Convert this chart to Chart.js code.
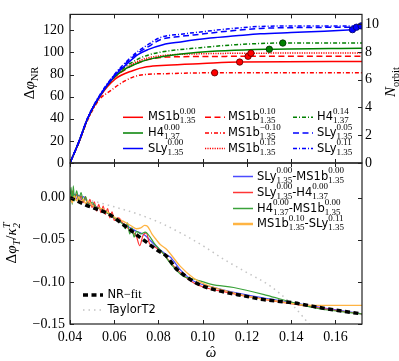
<!DOCTYPE html>
<html>
<head>
<meta charset="utf-8">
<script src="https://cdn.jsdelivr.net/npm/chart.js@4.4.1/dist/chart.umd.min.js"></script>
<style>
  html, body { margin: 0; padding: 0; background: #fff; }
  #wrap { position: relative; width: 399px; height: 361px; }
  #wrap canvas { position: absolute; left: 0; top: 0; }
</style>
</head>
<body>
<div id="wrap">
  <canvas id="topPanel" width="399" height="361"></canvas>
  <canvas id="bottomPanel" width="399" height="361"></canvas>
</div>
<script>
// --- AXES / TICKS ---
const xTicks = [0.04, 0.06, 0.08, 0.10, 0.12, 0.14, 0.16];
const xTickLabels = ['0.04', '0.06', '0.08', '0.10', '0.12', '0.14', '0.16'];
const phiTicks = [0, 20, 40, 60, 80, 100, 120];
const orbitTicks = [0, 2, 4, 6, 8, 10];
const tidalTicks = [0, -0.05, -0.10, -0.15];
const tidalTickLabels = ['0.00', '\u22120.05', '\u22120.10', '\u22120.15'];

// --- TOP PANEL: accumulated NR phase, one omega list per run ---
const wMS1b000 = [0.04, 0.0442, 0.048, 0.0533, 0.0605, 0.0683, 0.0747, 0.0835, 0.10, 0.1167, 0.172];
const phiMS1b000 = [0, 19.8, 40, 59.5, 76, 83.5, 87, 88.5, 90, 91.3, 91.8];
const wMS1b010 = [0.04, 0.0442, 0.048, 0.0533, 0.0605, 0.0654, 0.0707, 0.0752, 0.0835, 0.10, 0.1205, 0.172];
const phiMS1b010 = [0, 19.8, 40.2, 59.7, 78, 85, 90.5, 93.5, 95.8, 96.3, 96.5, 96.5];
const wMS1bm010 = [0.04, 0.0442, 0.048, 0.0533, 0.0577, 0.0646, 0.0714, 0.0835, 0.1054, 0.172];
const phiMS1bm010 = [0, 19.5, 39, 57.5, 64.5, 74, 79.4, 80.8, 81.6, 81.6];
const wMS1b015 = [0.04, 0.0442, 0.048, 0.0533, 0.0605, 0.0654, 0.0707, 0.0752, 0.0835, 0.10, 0.1218, 0.172];
const phiMS1b015 = [0, 19.8, 40.2, 59.8, 78.5, 86, 92, 95, 97.5, 98.8, 99.3, 99.5];
const wH4000 = [0.04, 0.0442, 0.048, 0.0533, 0.0605, 0.0654, 0.0707, 0.0752, 0.084, 0.097, 0.1301, 0.172];
const phiH4000 = [0, 20, 40.3, 60, 78.5, 85.5, 90.5, 93.5, 97, 100, 102.9, 103.8];
const wH4014 = [0.04, 0.0442, 0.048, 0.0533, 0.0605, 0.0654, 0.0707, 0.0752, 0.081, 0.0989, 0.115, 0.1362, 0.172];
const phiH4014 = [0, 20, 40.5, 60, 79.5, 87.5, 94, 97.5, 100.3, 104.3, 107, 108.5, 108.5];
const wSLy000 = [0.04, 0.0442, 0.048, 0.0533, 0.0605, 0.0654, 0.0707, 0.0752, 0.082, 0.09, 0.1034, 0.115, 0.126, 0.14, 0.155, 0.1677];
const phiSLy000 = [0, 20, 40.5, 60, 79.5, 89, 98, 102.5, 107, 109.5, 113, 115, 116.8, 118, 119.2, 120.6];
const wSLy005 = [0.04, 0.0442, 0.048, 0.0533, 0.0605, 0.0654, 0.0707, 0.0752, 0.0808, 0.09, 0.0989, 0.11, 0.126, 0.145, 0.1695];
const phiSLy005 = [0, 20, 40.5, 60.5, 80.5, 90.5, 99.5, 105, 111.5, 114.5, 116.5, 119, 121.7, 122.5, 122.8];
const wSLy011 = [0.04, 0.0442, 0.048, 0.0533, 0.0605, 0.0654, 0.0707, 0.0752, 0.0808, 0.09, 0.0989, 0.11, 0.126, 0.145, 0.1716];
const phiSLy011 = [0, 20.5, 41, 61, 81, 91.5, 101, 107, 113.5, 116.5, 118.5, 121, 123.5, 124, 124];

// merger markers (same order: MS1b 0.00, 0.10, -0.10, 0.15, H4 0.00, 0.14, SLy 0.00, 0.05, 0.11)
const mergerW = [0.1167, 0.1205, 0.1054, 0.1218, 0.1301, 0.1362, 0.1677, 0.1695, 0.1716];
const mergerPhi = [91.3, 96.5, 81.6, 99.3, 102.9, 108.5, 120.6, 122.8, 124];

// --- BOTTOM PANEL: tidal phase difference / kappa ---
const wNRfit = [0.04, 0.047, 0.058, 0.065, 0.073, 0.079, 0.0838, 0.0876, 0.0921, 0.0966, 0.1019, 0.1072, 0.1125, 0.1185, 0.126, 0.1411, 0.1562, 0.172];
const nrFit = [0, -0.0086, -0.0204, -0.034, -0.0498, -0.0616, -0.070, -0.0832, -0.093, -0.1008, -0.1067, -0.1106, -0.1137, -0.1165, -0.1205, -0.125, -0.132, -0.138];
const wTaylorT2 = [0.04, 0.05, 0.06, 0.07, 0.08, 0.09, 0.10, 0.11, 0.12, 0.13, 0.14, 0.15];
const taylorT2 = [0, -0.004, -0.011, -0.019, -0.029, -0.042, -0.057, -0.074, -0.089, -0.104, -0.126, -0.156];

const wSLyMS1b = [0.040, 0.041, 0.042, 0.043, 0.044, 0.045, 0.046, 0.048, 0.050, 0.052, 0.054, 0.056, 0.058, 0.060, 0.062, 0.064, 0.066, 0.068, 0.070, 0.072, 0.074, 0.076, 0.079, 0.0835, 0.0853, 0.09, 0.0958, 0.104, 0.111, 0.126, 0.14, 0.155, 0.172];
const dSLyMS1b = [0.002, -0.005, 0.004, -0.002, 0.003, -0.003, 0.001, -0.006, -0.008, -0.011, -0.014, -0.017, -0.020, -0.024, -0.027, -0.031, -0.034, -0.037, -0.040, -0.042, -0.045, -0.050, -0.058, -0.0675, -0.0705, -0.086, -0.099, -0.106, -0.1107, -0.1185, -0.1245, -0.131, -0.138];
const wSLyH4 = [0.040, 0.0405, 0.041, 0.042, 0.043, 0.044, 0.045, 0.046, 0.047, 0.048, 0.049, 0.050, 0.051, 0.052, 0.053, 0.054, 0.055, 0.056, 0.057, 0.058, 0.059, 0.060, 0.062, 0.064, 0.066, 0.068, 0.070, 0.0715, 0.073, 0.0745, 0.076, 0.078, 0.082, 0.086, 0.0958, 0.111, 0.126, 0.14, 0.155, 0.172];
const dSLyH4 = [0.006, -0.004, 0.008, -0.003, 0.004, -0.004, 0.002, -0.006, 0.001, -0.010, -0.002, -0.012, -0.005, -0.016, -0.008, -0.018, -0.010, -0.020, -0.013, -0.024, -0.017, -0.027, -0.024, -0.031, -0.036, -0.040, -0.046, -0.057, -0.045, -0.042, -0.055, -0.058, -0.066, -0.079, -0.101, -0.1125, -0.120, -0.126, -0.132, -0.138];
const wH4MS1b = [0.040, 0.0405, 0.041, 0.0415, 0.042, 0.043, 0.044, 0.045, 0.046, 0.047, 0.048, 0.050, 0.052, 0.054, 0.056, 0.058, 0.060, 0.062, 0.064, 0.065, 0.066, 0.067, 0.068, 0.069, 0.070, 0.072, 0.074, 0.076, 0.078, 0.082, 0.086, 0.091, 0.096, 0.104, 0.114, 0.129, 0.14, 0.152, 0.172];
const dH4MS1b = [-0.005, 0.012, -0.008, 0.014, -0.004, 0.008, -0.003, 0.006, -0.004, 0.001, -0.008, -0.006, -0.012, -0.013, -0.017, -0.020, -0.024, -0.028, -0.032, -0.037, -0.030, -0.043, -0.036, -0.047, -0.040, -0.043, -0.041, -0.046, -0.054, -0.066, -0.080, -0.093, -0.0966, -0.103, -0.1067, -0.116, -0.124, -0.1316, -0.138];
const wMS1bSLy = [0.040, 0.041, 0.042, 0.043, 0.044, 0.045, 0.046, 0.047, 0.048, 0.050, 0.052, 0.054, 0.056, 0.058, 0.060, 0.062, 0.064, 0.066, 0.068, 0.070, 0.072, 0.0737, 0.075, 0.077, 0.079, 0.0808, 0.0835, 0.0898, 0.0958, 0.101, 0.11, 0.12, 0.13, 0.14, 0.148, 0.172];
const dMS1bSLy = [0.004, -0.006, 0.002, -0.004, 0.001, -0.005, -0.002, -0.007, -0.004, -0.009, -0.012, -0.013, -0.016, -0.019, -0.023, -0.026, -0.028, -0.031, -0.034, -0.037, -0.036, -0.033, -0.034, -0.043, -0.050, -0.0557, -0.061, -0.0813, -0.0955, -0.103, -0.1105, -0.117, -0.1215, -0.1255, -0.128, -0.128];

// --- STYLE ---
const RED = '#ff0000', GREEN = '#008000', BLUE = '#0000ff';
const bBLUE = '#4b4bff', bRED = '#ff3535', bGREEN = '#3aa23a', bORANGE = '#ffb443';
const DASH = [6, 3.5], DASHDOT = [4, 2, 1, 2], DOT = [1.2, 1.2];
const SERIF = '"Liberation Serif", "DejaVu Serif", serif';
const SANS = '"DejaVu Sans", sans-serif';
const legendStyle = { main: '11.5px ' + SANS, small: '9px ' + SERIF, up: 6.5, down: 3 };
const titleStyle = { main: '15px ' + SERIF, small: '10.5px ' + SERIF, up: 6, down: 4 };

function series(ws, vs, color, dash, width) {
    return {
        data: ws.map((w, i) => ({ x: w, y: vs[i] })),
        borderColor: color,
        borderDash: dash,
        borderWidth: width,
        pointRadius: 0,
        fill: false,
        cubicInterpolationMode: 'monotone'
    };
}

// draws text with stacked sup/sub parts, returns width
function drawRich(ctx, parts, x, y, st, dry) {
    let cx = x;
    parts.forEach(p => {
        if (p.t !== undefined) {
            ctx.font = p.f || st.main;
            if (!dry) ctx.fillText(p.t, cx, y);
            cx += ctx.measureText(p.t).width;
        } else {
            ctx.font = p.f || st.small;
            let w = 0;
            if (p.sup) { if (!dry) ctx.fillText(p.sup, cx, y - st.up); w = Math.max(w, ctx.measureText(p.sup).width); }
            if (p.sub) { if (!dry) ctx.fillText(p.sub, cx, y + st.down); w = Math.max(w, ctx.measureText(p.sub).width); }
            cx += w;
        }
    });
    return cx - x;
}

const eos = (name, chi, mass) => [{ t: name }, { sup: chi, sub: mass }];

function drawEntry(ctx, x0, x1, y, color, dash, width, tx, parts) {
    ctx.save();
    ctx.strokeStyle = color;
    ctx.lineWidth = width;
    ctx.setLineDash(dash);
    ctx.beginPath();
    ctx.moveTo(x0, y);
    ctx.lineTo(x1, y);
    ctx.stroke();
    ctx.restore();
    ctx.fillStyle = '#000';
    ctx.textAlign = 'left';
    ctx.textBaseline = 'alphabetic';
    drawRich(ctx, parts, tx, y + 3, legendStyle);
}

function drawTitle(ctx, parts, x, y, rotate) {
    ctx.save();
    ctx.translate(x, y);
    if (rotate) ctx.rotate(-Math.PI / 2);
    ctx.fillStyle = '#000';
    ctx.textAlign = 'left';
    ctx.textBaseline = 'alphabetic';
    const w = drawRich(ctx, parts, 0, 0, titleStyle, true);
    drawRich(ctx, parts, -w / 2, 0, titleStyle);
    ctx.restore();
}

// frame + inward ticks on all four sides
function drawFrame(ctx, a, sx, sl, leftTicks, sr, rightTicks) {
    ctx.save();
    ctx.strokeStyle = '#222';
    ctx.lineWidth = 1;
    ctx.beginPath();
    xTicks.forEach(v => {
        const px = Math.round(sx.getPixelForValue(v)) + 0.5;
        ctx.moveTo(px, a.bottom); ctx.lineTo(px, a.bottom - 4);
        ctx.moveTo(px, a.top); ctx.lineTo(px, a.top + 4);
    });
    leftTicks.forEach(v => {
        const py = Math.round(sl.getPixelForValue(v)) + 0.5;
        ctx.moveTo(a.left, py); ctx.lineTo(a.left + 4, py);
    });
    rightTicks.forEach(v => {
        const py = Math.round(sr.getPixelForValue(v)) + 0.5;
        ctx.moveTo(a.right, py); ctx.lineTo(a.right - 4, py);
    });
    ctx.stroke();
    ctx.lineWidth = 1.2;
    ctx.strokeRect(a.left, a.top, a.right - a.left, a.bottom - a.top);
    ctx.restore();
}

const tickFont = { family: SERIF, size: 14 };
const phiMax = 134.4;

// --- TOP CHART ---
const topDecor = {
    id: 'topDecor',
    afterDraw(chart) {
        const { ctx, chartArea: a, scales } = chart;
        drawFrame(ctx, a, scales.x, scales.y, phiTicks, scales.y2, orbitTicks);

        const cols = [[123, 143, 148], [205, 225, 228], [293, 313, 317]];
        const rows = [117.3, 133, 148.5];
        drawEntry(ctx, cols[0][0], cols[0][1], rows[0], RED, [], 1.5, cols[0][2], eos('MS1b', '0.00', '1.35'));
        drawEntry(ctx, cols[0][0], cols[0][1], rows[1], GREEN, [], 1.5, cols[0][2], eos('H4', '0.00', '1.37'));
        drawEntry(ctx, cols[0][0], cols[0][1], rows[2], BLUE, [], 1.5, cols[0][2], eos('SLy', '0.00', '1.35'));
        drawEntry(ctx, cols[1][0], cols[1][1], rows[0], RED, DASH, 1.5, cols[1][2], eos('MS1b', '0.10', '1.35'));
        drawEntry(ctx, cols[1][0], cols[1][1], rows[1], RED, DASHDOT, 1.5, cols[1][2], eos('MS1b', '\u22120.10', '1.35'));
        drawEntry(ctx, cols[1][0], cols[1][1], rows[2], RED, DOT, 1.5, cols[1][2], eos('MS1b', '0.15', '1.35'));
        drawEntry(ctx, cols[2][0], cols[2][1], rows[0], GREEN, DASHDOT, 1.5, cols[2][2], eos('H4', '0.14', '1.37'));
        drawEntry(ctx, cols[2][0], cols[2][1], rows[1], BLUE, DASH, 1.5, cols[2][2], eos('SLy', '0.05', '1.35'));
        drawEntry(ctx, cols[2][0], cols[2][1], rows[2], BLUE, DASHDOT, 1.5, cols[2][2], eos('SLy', '0.11', '1.35'));

        const it = '15px italic ' + SERIF;
        drawTitle(ctx, [{ t: '\u0394' }, { t: '\u03c6', f: 'italic 15px ' + SERIF }, { sub: 'NR' }], 33.5, 83, true);
        drawTitle(ctx, [{ t: 'N', f: 'italic 15px ' + SERIF }, { sub: 'orbit' }], 395, 82, true);
    }
};

const dotColors = [RED, RED, RED, RED, GREEN, GREEN, BLUE, BLUE, BLUE];
const dotEdges = ['#5a0000', '#5a0000', '#5a0000', '#5a0000', '#003000', '#003000', '#00005a', '#00005a', '#00005a'];

new Chart(document.getElementById('topPanel'), {
    type: 'line',
    data: {
        datasets: [
            {
                data: mergerW.map((w, i) => ({ x: w, y: mergerPhi[i] })),
                showLine: false,
                pointRadius: 3.2,
                pointBackgroundColor: dotColors,
                pointBorderColor: dotEdges,
                pointBorderWidth: 0.8
            },
            series(wSLy011, phiSLy011, BLUE, DASHDOT, 1.5),
            series(wSLy005, phiSLy005, BLUE, DASH, 1.5),
            series(wSLy000, phiSLy000, BLUE, [], 1.5),
            series(wH4014, phiH4014, GREEN, DASHDOT, 1.5),
            series(wH4000, phiH4000, GREEN, [], 1.5),
            series(wMS1b015, phiMS1b015, RED, DOT, 1.5),
            series(wMS1bm010, phiMS1bm010, RED, DASHDOT, 1.5),
            series(wMS1b010, phiMS1b010, RED, DASH, 1.5),
            series(wMS1b000, phiMS1b000, RED, [], 1.5)
        ]
    },
    options: {
        responsive: false,
        animation: false,
        layout: { padding: { top: 2, left: 0, right: 0, bottom: 0 } },
        plugins: { legend: { display: false }, tooltip: { enabled: false } },
        scales: {
            x: {
                type: 'linear', min: 0.04, max: 0.172,
                ticks: { display: false },
                grid: { display: false, drawTicks: false },
                border: { display: false },
                afterFit: s => { s.height = 198; }
            },
            y: {
                position: 'left', min: 0, max: phiMax,
                afterBuildTicks: s => { s.ticks = phiTicks.map(v => ({ value: v })); },
                ticks: { font: tickFont, color: '#000', padding: 6, autoSkip: false, callback: v => String(v) },
                grid: { display: false, drawTicks: false },
                border: { display: false },
                afterFit: s => { s.width = 70; }
            },
            y2: {
                position: 'right', min: 0, max: phiMax / (4 * Math.PI),
                afterBuildTicks: s => { s.ticks = orbitTicks.map(v => ({ value: v })); },
                ticks: { font: tickFont, color: '#000', padding: 3, autoSkip: false, callback: v => String(v) },
                grid: { display: false, drawTicks: false },
                border: { display: false },
                afterFit: s => { s.width = 37; }
            }
        }
    },
    plugins: [topDecor]
});

// --- BOTTOM CHART ---
const bottomDecor = {
    id: 'bottomDecor',
    afterDraw(chart) {
        const { ctx, chartArea: a, scales } = chart;
        drawFrame(ctx, a, scales.x, scales.y, tidalTicks, scales.y, tidalTicks);

        const rows = [176.5, 192.5, 208.5, 224];
        drawEntry(ctx, 233, 253, rows[0], bBLUE, [], 1.5, 257, [...eos('SLy', '0.00', '1.35'), ...eos('-MS1b', '0.00', '1.35')]);
        drawEntry(ctx, 233, 253, rows[1], bRED, [], 1.5, 257, [...eos('SLy', '0.00', '1.35'), ...eos('-H4', '0.00', '1.37')]);
        drawEntry(ctx, 233, 253, rows[2], bGREEN, [], 1.5, 257, [...eos('H4', '0.00', '1.37'), ...eos('-MS1b', '0.00', '1.35')]);
        drawEntry(ctx, 233, 253, rows[3], bORANGE, [], 2.5, 257, [...eos('MS1b', '0.10', '1.35'), ...eos('-SLy', '0.11', '1.35')]);

        drawEntry(ctx, 83, 103, 295, '#000', [5, 3.5], 3.5, 107.5, [{ t: 'NR' }, { t: '\u2212fit', f: '12px ' + SERIF }]);
        drawEntry(ctx, 83, 103, 310, '#c4c4c4', [1.5, 4], 1.5, 107.5, [{ t: 'TaylorT2' }]);

        const itf = 'italic 15px ' + SERIF;
        drawTitle(ctx, [{ t: '\u0394' }, { t: '\u03c6', f: itf }, { sub: 'T', f: 'italic 10.5px ' + SERIF }, { t: '/' }, { t: '\u03ba', f: itf }, { sup: 'T', sub: '2', f: 'italic 10.5px ' + SERIF }], 16, 243, true);
        // omega-hat
        ctx.save();
        ctx.fillStyle = '#000';
        ctx.textAlign = 'center';
        ctx.textBaseline = 'alphabetic';
        ctx.font = itf;
        ctx.fillText('\u03c9', 211, 357);
        ctx.font = '13px ' + SERIF;
        ctx.fillText('\u02c6', 212.5, 355);
        ctx.restore();
    }
};

new Chart(document.getElementById('bottomPanel'), {
    type: 'line',
    data: {
        datasets: [
            series(wNRfit, nrFit, '#000', [5, 3.5], 3.5),
            series(wMS1bSLy, dMS1bSLy, bORANGE, [], 1.3),
            series(wH4MS1b, dH4MS1b, bGREEN, [], 1.2),
            series(wSLyH4, dSLyH4, bRED, [], 1.2),
            series(wSLyMS1b, dSLyMS1b, bBLUE, [], 1.2),
            series(wTaylorT2, taylorT2, '#c4c4c4', [1.5, 4], 1.5)
        ]
    },
    options: {
        responsive: false,
        animation: false,
        layout: { padding: { top: 163, left: 0, right: 37, bottom: 0 } },
        plugins: { legend: { display: false }, tooltip: { enabled: false } },
        scales: {
            x: {
                type: 'linear', min: 0.04, max: 0.172,
                afterBuildTicks: s => { s.ticks = xTicks.map(v => ({ value: v })); },
                ticks: { font: tickFont, color: '#000', padding: 5, autoSkip: false, maxRotation: 0,
                         callback: v => xTickLabels[xTicks.indexOf(v)] },
                grid: { display: false, drawTicks: false },
                border: { display: false },
                afterFit: s => { s.height = 37; }
            },
            y: {
                position: 'left', min: -0.15, max: 0.041,
                afterBuildTicks: s => { s.ticks = tidalTicks.map(v => ({ value: v })); },
                ticks: { font: tickFont, color: '#000', padding: 5, autoSkip: false,
                         callback: v => tidalTickLabels[tidalTicks.indexOf(v)] },
                grid: { display: false, drawTicks: false },
                border: { display: false },
                afterFit: s => { s.width = 70; }
            }
        }
    },
    plugins: [bottomDecor]
});
</script>
</body>
</html>
